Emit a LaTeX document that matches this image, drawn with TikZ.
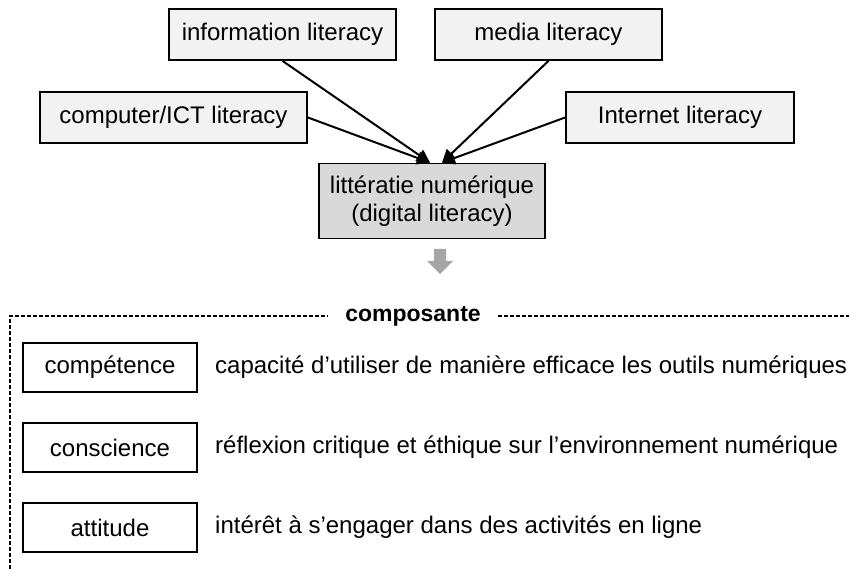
\documentclass[tikz,border=0pt]{standalone}
\usepackage{fontspec}
\setmainfont{Liberation Sans}
\usetikzlibrary{arrows.meta}
\definecolor{litgray}{RGB}{242,242,242}
\definecolor{maingray}{RGB}{217,217,217}
\definecolor{arrowgray}{RGB}{166,166,166}
\tikzset{
    litbox/.style={draw=black, line width=1.8pt, fill=litgray, minimum height=51pt, inner sep=0pt},
    mainbox/.style={draw=black, line width=1.8pt, fill=maingray, minimum width=226pt, minimum height=75pt, align=center, inner sep=0pt},
    compbox/.style={draw=black, line width=1.8pt, fill=white, minimum width=174pt, minimum height=49pt, inner sep=0pt},
    desc/.style={anchor=west, inner sep=0pt},
    feed/.style={line width=2pt, -{Triangle[length=13pt,width=13pt]}},
    frame/.style={line width=1.3pt, dash pattern=on 4pt off 2pt}
}
\begin{document}
\begin{tikzpicture}[x=1pt, y=-1pt, font=\fontsize{24}{28}\selectfont]
        \useasboundingbox (0,0) rectangle (849,569);
        % The four literacies at the top.
            \node[litbox, minimum width=227pt] (info) at (282.5,34.5) {information literacy};
            \node[litbox, minimum width=227pt] (media) at (548.5,34.5) {media literacy};
            \node[litbox, minimum width=267pt] (comp) at (173.5,117.5) {computer/ICT literacy};
            \node[litbox, minimum width=228pt] (inet) at (680,117.5) {Internet literacy};
            \node[mainbox] (digital) at (432,201) {littératie numérique\\(digital literacy)};
        % Arrow ends on top of the middle box.
            \coordinate (tipL) at ([xshift=-2pt]digital.north);
            \coordinate (tipR) at ([xshift=10pt]digital.north);
            \draw[feed] (info.south) -- (tipL);
            \draw[feed] (comp.east) -- (tipL);
            \draw[feed] (media.south) -- (tipR);
            \draw[feed] (inet.west) -- (tipR);
        % Gray block arrow.
            \coordinate (down) at (440,249);
            \fill[arrowgray] (down) ++(-6,0) -- ++(12,0) -- ++(0,12) -- ++(7,0) -- (440,274) -- (427,261) -- ++(7,0) -- cycle;
        % The components.
            \node[font=\fontsize{23}{27}\selectfont\bfseries] (title) at (413,316) {composante};
            \draw[frame] (10,569) |- ([xshift=-14pt]title.west);
            \draw[frame] ([xshift=14pt]title.east) -- (849,316);
            \node[compbox] (skill) at (110,367.5) {compétence};
            \node[compbox] (aware) at (110,447.5) {conscience};
            \node[compbox] (attit) at (110,527.5) {attitude};
            \node[desc] (skilltxt) at (215,367.5) {capacité d’utiliser de manière efficace les outils numériques};
            \node[desc] (awaretxt) at (215,447.5) {réflexion critique et éthique sur l’environnement numérique};
            \node[desc] (attittxt) at (215,527.5) {intérêt à s’engager dans des activités en ligne};
\end{tikzpicture}
\end{document}
